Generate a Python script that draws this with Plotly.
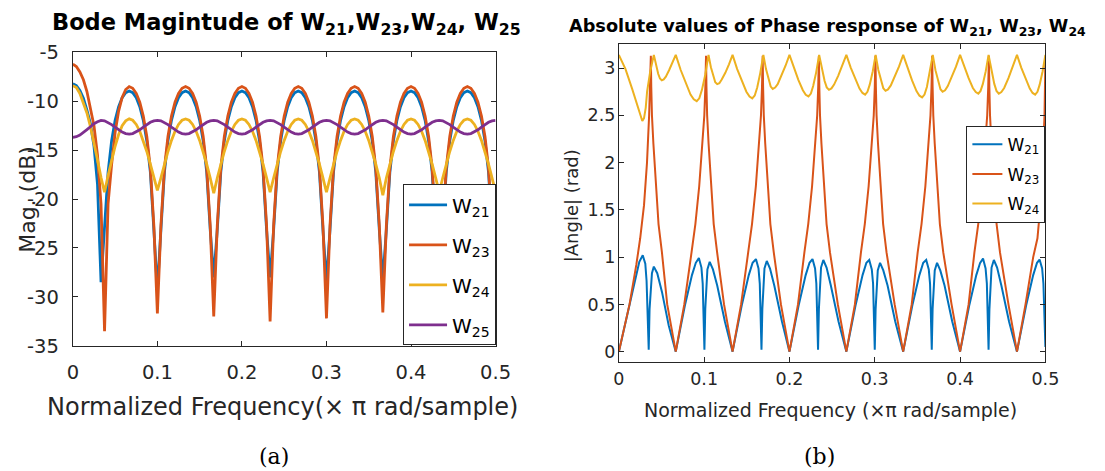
import numpy as np
import plotly.graph_objects as go

W, H = 1105, 471

# ---------------- magnitude responses (dB) on a uniform frequency grid ----------------
FREQ = np.linspace(0.0, 0.5, 121)

W21_MAG = [
    -8.2, -8.4, -8.9, -9.7, -10.9, -12.3, -14.6, -18.5, -28.5,
    -23.15, -17.25, -14.05, -11.95, -10.55, -9.64, -9.12, -8.95,
    -9.12, -9.64, -10.55, -11.95, -14.05, -17.25, -23.15, -29.3, -23.15, -17.25, -14.05, -11.95, -10.55, -9.64, -9.12, -8.95,
    -9.12, -9.64, -10.55, -11.95, -14.05, -17.25, -23.15, -28.0, -23.15, -17.25, -14.05, -11.95, -10.55, -9.64, -9.12, -8.95,
    -9.12, -9.64, -10.55, -11.95, -14.05, -17.25, -23.15, -28.0, -23.15, -17.25, -14.05, -11.95, -10.55, -9.64, -9.12, -8.95,
    -9.12, -9.64, -10.55, -11.95, -14.05, -17.25, -23.15, -28.5, -23.15, -17.25, -14.05, -11.95, -10.55, -9.64, -9.12, -8.95,
    -9.12, -9.64, -10.55, -11.95, -14.05, -17.25, -23.15, -28.3, -23.15, -17.25, -14.05, -11.95, -10.55, -9.64, -9.12, -8.95,
    -9.12, -9.64, -10.55, -11.95, -14.05, -17.25, -23.15, -28.6, -23.15, -17.25, -14.05, -11.95, -10.55, -9.64, -9.12, -8.95,
    -9.12, -9.64, -10.55, -11.95, -14.05, -17.25, -23.15, -29.2,
]

W23_MAG = [
    -6.2, -6.45, -7.0, -7.8, -9.0, -10.6, -12.5, -15.5, -20.5, -33.5,
    -20.5, -16.5, -13.2, -11.0, -9.6, -8.8, -8.5,
    -8.67, -9.19, -10.1, -11.5, -13.6, -16.8, -22.7, -31.7, -22.7, -16.8, -13.6, -11.5, -10.1, -9.19, -8.67, -8.5,
    -8.67, -9.19, -10.1, -11.5, -13.6, -16.8, -22.7, -32.0, -22.7, -16.8, -13.6, -11.5, -10.1, -9.19, -8.67, -8.5,
    -8.67, -9.19, -10.1, -11.5, -13.6, -16.8, -22.7, -32.5, -22.7, -16.8, -13.6, -11.5, -10.1, -9.19, -8.67, -8.5,
    -8.67, -9.19, -10.1, -11.5, -13.6, -16.8, -22.7, -32.2, -22.7, -16.8, -13.6, -11.5, -10.1, -9.19, -8.67, -8.5,
    -8.67, -9.19, -10.1, -11.5, -13.6, -16.8, -22.7, -31.6, -22.7, -16.8, -13.6, -11.5, -10.1, -9.19, -8.67, -8.5,
    -8.67, -9.19, -10.1, -11.5, -13.6, -16.8, -22.7, -32.3, -22.7, -16.8, -13.6, -11.5, -10.1, -9.19, -8.67, -8.5,
    -8.67, -9.19, -10.1, -11.5, -13.6, -16.8, -22.7, -32.5,
]

W24_MAG = [
    -8.4, -8.6, -9.2, -10.1, -11.2, -12.6, -14.2, -16.0, -17.8, -19.3,
    -17.6, -16.0, -14.6, -13.4, -12.5, -12.0, -11.8,
    -11.94, -12.37, -13.06, -14.0, -15.13, -16.43, -17.84, -19.1, -17.84, -16.43, -15.13, -14.0, -13.06, -12.37, -11.94, -11.8,
    -11.94, -12.37, -13.06, -14.0, -15.13, -16.43, -17.84, -19.4, -17.84, -16.43, -15.13, -14.0, -13.06, -12.37, -11.94, -11.8,
    -11.94, -12.37, -13.06, -14.0, -15.13, -16.43, -17.84, -19.3, -17.84, -16.43, -15.13, -14.0, -13.06, -12.37, -11.94, -11.8,
    -11.94, -12.37, -13.06, -14.0, -15.13, -16.43, -17.84, -19.3, -17.84, -16.43, -15.13, -14.0, -13.06, -12.37, -11.94, -11.8,
    -11.94, -12.37, -13.06, -14.0, -15.13, -16.43, -17.84, -19.6, -17.84, -16.43, -15.13, -14.0, -13.06, -12.37, -11.94, -11.8,
    -11.94, -12.37, -13.06, -14.0, -15.13, -16.43, -17.84, -19.3, -17.84, -16.43, -15.13, -14.0, -13.06, -12.37, -11.94, -11.8,
    -11.94, -12.37, -13.06, -14.0, -15.13, -16.43, -17.84, -19.3,
]

W25_MAG = [
    -13.7, -13.62, -13.45, -13.2, -12.9, -12.6, -12.3, -12.1, -11.95,
    -12.0, -12.15, -12.38, -12.65, -12.92, -13.15, -13.3, -13.35,
    -13.3, -13.15, -12.92, -12.65, -12.38, -12.15, -12.0, -11.95, -12.0, -12.15, -12.38, -12.65, -12.92, -13.15, -13.3, -13.35,
    -13.3, -13.15, -12.92, -12.65, -12.38, -12.15, -12.0, -11.95, -12.0, -12.15, -12.38, -12.65, -12.92, -13.15, -13.3, -13.35,
    -13.3, -13.15, -12.92, -12.65, -12.38, -12.15, -12.0, -11.95, -12.0, -12.15, -12.38, -12.65, -12.92, -13.15, -13.3, -13.35,
    -13.3, -13.15, -12.92, -12.65, -12.38, -12.15, -12.0, -11.95, -12.0, -12.15, -12.38, -12.65, -12.92, -13.15, -13.3, -13.35,
    -13.3, -13.15, -12.92, -12.65, -12.38, -12.15, -12.0, -11.95, -12.0, -12.15, -12.38, -12.65, -12.92, -13.15, -13.3, -13.35,
    -13.3, -13.15, -12.92, -12.65, -12.38, -12.15, -12.0, -11.95, -12.0, -12.15, -12.38, -12.65, -12.92, -13.15, -13.3, -13.35,
    -13.3, -13.15, -12.92, -12.65, -12.38, -12.15, -12.0, -11.95,
]

# ---------------- absolute phase responses (rad) ----------------
W21_PH_F = [
    0, 0.0125, 0.019, 0.024, 0.028, 0.031, 0.0325, 0.0338, 0.035, 0.036, 0.0372, 0.0388, 0.041, 0.045, 0.0506, 0.0584,
    0.0667, 0.0777, 0.0857, 0.0902, 0.0938, 0.0968, 0.0983, 0.0993, 0.1003, 0.1013, 0.1023, 0.1038, 0.1065, 0.1103, 0.1153, 0.1243,
    0.1333, 0.1443, 0.1523, 0.1568, 0.1607, 0.1637, 0.1652, 0.1662, 0.1672, 0.1682, 0.1692, 0.1707, 0.1734, 0.1772, 0.1822, 0.1912,
    0.2, 0.211, 0.219, 0.2235, 0.227, 0.23, 0.2315, 0.2325, 0.2335, 0.2345, 0.2355, 0.237, 0.2397, 0.2435, 0.2485, 0.2575,
    0.2667, 0.2777, 0.2857, 0.2902, 0.2935, 0.2965, 0.298, 0.299, 0.3, 0.301, 0.302, 0.3035, 0.3062, 0.31, 0.315, 0.324,
    0.3333, 0.3443, 0.3523, 0.3568, 0.3603, 0.3633, 0.3648, 0.3658, 0.3668, 0.3678, 0.3688, 0.3703, 0.373, 0.3768, 0.3818, 0.3908,
    0.4, 0.411, 0.419, 0.4235, 0.4269, 0.4299, 0.4314, 0.4324, 0.4334, 0.4344, 0.4354, 0.4369, 0.4396, 0.4434, 0.4484, 0.4574,
    0.4667, 0.4777, 0.4857, 0.4902, 0.4932, 0.4962, 0.4977, 0.4988, 0.5,
]
W21_PH = [
    0, 0.5, 0.78, 0.95, 1.02, 0.93, 0.75, 0.45, 0.02, 0.45, 0.68, 0.83, 0.9, 0.83, 0.63, 0.28,
    0, 0.5, 0.81, 0.94, 0.99, 0.89, 0.72, 0.45, 0.02, 0.45, 0.7, 0.87, 0.95, 0.87, 0.7, 0.32,
    0, 0.5, 0.81, 0.94, 0.98, 0.88, 0.72, 0.45, 0.02, 0.45, 0.7, 0.88, 0.96, 0.88, 0.7, 0.32,
    0, 0.5, 0.81, 0.94, 0.98, 0.88, 0.72, 0.45, 0.02, 0.45, 0.7, 0.89, 0.97, 0.89, 0.7, 0.32,
    0, 0.5, 0.81, 0.94, 0.97, 0.87, 0.72, 0.45, 0.02, 0.45, 0.7, 0.86, 0.94, 0.86, 0.7, 0.32,
    0, 0.5, 0.81, 0.94, 0.97, 0.87, 0.72, 0.45, 0.02, 0.45, 0.7, 0.86, 0.94, 0.86, 0.7, 0.32,
    0, 0.5, 0.81, 0.94, 0.985, 0.88, 0.72, 0.45, 0.02, 0.45, 0.7, 0.89, 0.97, 0.89, 0.7, 0.32,
    0, 0.5, 0.81, 0.94, 0.975, 0.88, 0.72, 0.45, 0.05,
]

W23_PH_F = [
    0, 0.0125, 0.0205, 0.025, 0.0295, 0.033, 0.0355, 0.0367, 0.0375, 0.038, 0.0388, 0.0405, 0.043, 0.0465, 0.0505, 0.0567,
    0.0667, 0.0767, 0.0852, 0.0897, 0.0942, 0.0977, 0.1002, 0.1014, 0.1022, 0.1027, 0.1035, 0.1052, 0.1077, 0.1112, 0.1152, 0.1233,
    0.1333, 0.1433, 0.1516, 0.1561, 0.1606, 0.1641, 0.1666, 0.1678, 0.1686, 0.1691, 0.1699, 0.1716, 0.1741, 0.1776, 0.1816, 0.19,
    0.2, 0.21, 0.2175, 0.222, 0.2265, 0.23, 0.2325, 0.2337, 0.2345, 0.235, 0.2358, 0.2375, 0.24, 0.2435, 0.2475, 0.2567,
    0.2667, 0.2767, 0.2838, 0.2883, 0.2928, 0.2963, 0.2988, 0.3, 0.3008, 0.3013, 0.3021, 0.3038, 0.3063, 0.3098, 0.3138, 0.3233,
    0.3333, 0.3433, 0.3503, 0.3548, 0.3593, 0.3628, 0.3653, 0.3665, 0.3673, 0.3678, 0.3686, 0.3703, 0.3728, 0.3763, 0.3803, 0.39,
    0.4, 0.41, 0.4168, 0.4213, 0.4258, 0.4293, 0.4318, 0.433, 0.4338, 0.4343, 0.4351, 0.4368, 0.4393, 0.4428, 0.4468, 0.4567,
    0.4667, 0.4767, 0.4857, 0.4907, 0.4947, 0.4975, 0.499, 0.5,
]
W23_PH = [
    0, 0.5, 0.92, 1.2, 1.55, 2.0, 2.5, 2.8, 3.13, 2.8, 2.5, 2.2, 1.8, 1.35, 1.05, 0.5,
    0, 0.5, 1.05, 1.35, 1.75, 2.2, 2.5, 2.8, 3.13, 2.8, 2.5, 2.2, 1.8, 1.35, 1.05, 0.5,
    0, 0.5, 1.05, 1.35, 1.75, 2.2, 2.5, 2.8, 3.13, 2.8, 2.5, 2.2, 1.8, 1.35, 1.05, 0.5,
    0, 0.5, 1.05, 1.35, 1.75, 2.2, 2.5, 2.8, 3.13, 2.8, 2.5, 2.2, 1.8, 1.35, 1.05, 0.5,
    0, 0.5, 1.05, 1.35, 1.75, 2.2, 2.5, 2.8, 3.13, 2.8, 2.5, 2.2, 1.8, 1.35, 1.05, 0.5,
    0, 0.5, 1.05, 1.35, 1.75, 2.2, 2.5, 2.8, 3.13, 2.8, 2.5, 2.2, 1.8, 1.35, 1.05, 0.5,
    0, 0.5, 1.05, 1.35, 1.75, 2.2, 2.5, 2.8, 3.13, 2.8, 2.5, 2.2, 1.8, 1.35, 1.05, 0.5,
    0, 0.5, 1.0, 1.2, 1.6, 2.1, 2.5, 3.1,
]

W24_PH_F = [
    0, 0.0078, 0.0156, 0.0234, 0.0275, 0.0295, 0.0315, 0.0331, 0.0365, 0.041,
    0.0436, 0.0461, 0.0482, 0.0503, 0.0526, 0.0551, 0.059, 0.0628,
    0.0667, 0.0725, 0.0782, 0.084, 0.0878, 0.0913, 0.0943, 0.0974, 0.1013, 0.1051,
    0.1079, 0.1107, 0.113, 0.1153, 0.1178, 0.1206, 0.1248, 0.1291,
    0.1333, 0.1387, 0.1441, 0.1495, 0.1532, 0.1564, 0.1593, 0.1622, 0.1658, 0.1694,
    0.1725, 0.1755, 0.178, 0.1804, 0.1832, 0.1862, 0.1908, 0.1954,
    0.2, 0.2052, 0.2104, 0.2157, 0.2191, 0.2223, 0.2251, 0.2278, 0.2313, 0.2348,
    0.238, 0.2412, 0.2437, 0.2463, 0.2492, 0.2523, 0.2571, 0.2619,
    0.2667, 0.2718, 0.277, 0.2821, 0.2856, 0.2887, 0.2914, 0.2941, 0.2976, 0.301,
    0.3042, 0.3075, 0.31, 0.3126, 0.3155, 0.3188, 0.3236, 0.3285,
    0.3333, 0.3385, 0.3437, 0.3489, 0.3524, 0.3555, 0.3583, 0.3611, 0.3645, 0.368,
    0.3712, 0.3744, 0.377, 0.3795, 0.3824, 0.3856, 0.3904, 0.3952,
    0.4, 0.405, 0.41, 0.415, 0.4184, 0.4214, 0.424, 0.4267, 0.4301, 0.4334,
    0.4367, 0.4401, 0.4427, 0.4454, 0.4484, 0.4517, 0.4567, 0.4617,
    0.4667, 0.4717, 0.4767, 0.4817, 0.485, 0.488, 0.4907, 0.4933, 0.4967, 0.5,
]
W24_PH = [
    3.14, 2.99, 2.78, 2.55, 2.44, 2.47, 2.58, 2.75, 2.95, 3.14,
    3.03, 2.94, 2.89, 2.87, 2.88, 2.91, 2.98, 3.05,
    3.14, 2.98, 2.85, 2.72, 2.67, 2.65, 2.68, 2.77, 2.93, 3.14,
    3.01, 2.91, 2.85, 2.83, 2.84, 2.88, 2.95, 3.04,
    3.14, 2.99, 2.86, 2.75, 2.7, 2.68, 2.71, 2.795, 2.95, 3.14,
    2.99, 2.87, 2.805, 2.78, 2.795, 2.83, 2.92, 3.025,
    3.14, 3.0, 2.876, 2.766, 2.718, 2.7, 2.73, 2.81, 2.955, 3.14,
    2.985, 2.863, 2.796, 2.77, 2.785, 2.826, 2.918, 3.02,
    3.14, 3.006, 2.888, 2.783, 2.737, 2.72, 2.749, 2.825, 2.964, 3.14,
    2.98, 2.855, 2.787, 2.76, 2.775, 2.817, 2.912, 3.018,
    3.14, 2.996, 2.87, 2.757, 2.708, 2.69, 2.72, 2.8, 2.95, 3.14,
    2.976, 2.848, 2.777, 2.75, 2.766, 2.81, 2.906, 3.015,
    3.14, 3.009, 2.894, 2.79, 2.746, 2.73, 2.759, 2.833, 2.968, 3.14,
    2.968, 2.833, 2.759, 2.73, 2.746, 2.79, 2.894, 3.009,
    3.14, 3.006, 2.888, 2.783, 2.737, 2.72, 2.749, 2.825, 2.964, 3.14,
]

# ---------------- ticks ----------------
FREQ_TICKS = [0, 0.1, 0.2, 0.3, 0.4, 0.5]
FREQ_TICK_TEXT = ["0", "0.1", "0.2", "0.3", "0.4", "0.5"]
MAG_TICKS = [-35, -30, -25, -20, -15, -10, -5]
MAG_TICK_TEXT = ["-35", "-30", "-25", "-20", "-15", "-10", "-5"]
PH_TICKS = [0, 0.5, 1, 1.5, 2, 2.5, 3]
PH_TICK_TEXT = ["0", "0.5", "1", "1.5", "2", "2.5", "3"]

assert len(W21_MAG) == len(W23_MAG) == len(W24_MAG) == len(W25_MAG) == len(FREQ)
assert len(W21_PH_F) == len(W21_PH)
assert len(W23_PH_F) == len(W23_PH)
assert len(W24_PH_F) == len(W24_PH)

BLUE, ORANGE, YELLOW, PURPLE = "#0072BD", "#D95319", "#EDB120", "#7E2F8E"
FONT = "DejaVu Sans"
SERIF = "DejaVu Serif"
INK = "#262626"


# pixel positions on the page -> paper fractions
def fx(p):
    return p / W


def fy(p):
    return 1 - p / H


fig = go.Figure()

mag_series = [("21", W21_MAG, BLUE), ("23", W23_MAG, ORANGE),
              ("24", W24_MAG, YELLOW), ("25", W25_MAG, PURPLE)]
for name, vals, col in mag_series:
    fig.add_trace(go.Scatter(
        x=FREQ, y=vals, mode="lines", name=f"W<sub>{name}</sub>",
        line=dict(color=col, width=2.8), xaxis="x", yaxis="y",
        legend="legend", legendgroup="m" + name, showlegend=True))

ph_series = [("21", W21_PH_F, W21_PH, BLUE), ("23", W23_PH_F, W23_PH, ORANGE),
             ("24", W24_PH_F, W24_PH, YELLOW)]
for name, fr, vals, col in ph_series:
    fig.add_trace(go.Scatter(
        x=fr, y=vals, mode="lines", name=f"W<sub>{name}</sub>",
        line=dict(color=col, width=2.0), xaxis="x2", yaxis="y2",
        legend="legend2", legendgroup="p" + name, showlegend=True))


def axis(size, standoff, **kw):
    d = dict(showline=True, linecolor=INK, linewidth=1, mirror="ticks",
             ticks="inside", ticklen=5, tickcolor=INK, showgrid=False,
             zeroline=False, ticklabelstandoff=standoff,
             tickfont=dict(family=FONT, color=INK, size=size))
    d.update(kw)
    return d


fig.update_layout(
    width=W, height=H, autosize=False,
    margin=dict(l=0, r=0, t=0, b=0, pad=0),
    paper_bgcolor="white", plot_bgcolor="white",
    xaxis=axis(19.5, 9, domain=[fx(68.2), fx(499.5)], range=[0, 0.5], anchor="y",
               tickvals=FREQ_TICKS, ticktext=FREQ_TICK_TEXT),
    yaxis=axis(19.5, 9, domain=[fy(352.0), fy(43.5)], range=[-35, -5], anchor="x",
               tickvals=MAG_TICKS, ticktext=MAG_TICK_TEXT),
    xaxis2=axis(17.5, 1, domain=[fx(625.3), fx(1060.5)], range=[0, 0.5], anchor="y2",
                tickvals=FREQ_TICKS, ticktext=FREQ_TICK_TEXT),
    yaxis2=axis(17.5, -1, domain=[fy(368.5), fy(35.2)], range=[-0.104, 3.25], anchor="x2",
                tickvals=PH_TICKS, ticktext=PH_TICK_TEXT),
    legend=dict(x=fx(500), y=fy(351.6), xanchor="right", yanchor="bottom",
                bgcolor="white", bordercolor=INK, borderwidth=1,
                font=dict(family=FONT, size=20, color="black"),
                tracegroupgap=11, itemwidth=38),
    legend2=dict(x=fx(1060.5), y=fy(222.6), xanchor="right", yanchor="bottom",
                 bgcolor="white", bordercolor=INK, borderwidth=1,
                 font=dict(family=FONT, size=17, color="black"),
                 tracegroupgap=4.5, itemwidth=30),
)

annotations = [
    dict(text="<b>Bode Magintude of W<sub>21</sub>,W<sub>23</sub>,W<sub>24</sub>, W<sub>25</sub></b>",
         x=fx(285.9), y=fy(13.5), font=dict(family=FONT, size=22.5, color="black")),
    dict(text="<b>Absolute values of Phase response of W<sub>21</sub>, W<sub>23</sub>, W<sub>24</sub></b>",
         x=fx(838.5), y=fy(17.6), font=dict(family=FONT, size=17.7, color="black")),
    dict(text="Normalized Frequency(× π rad/sample)", x=fx(281.8), y=fy(416.1),
         font=dict(family=FONT, size=24, color=INK)),
    dict(text="Normalized Frequency (×π rad/sample)", x=fx(841.5), y=fy(419.3),
         font=dict(family=FONT, size=19, color=INK)),
    dict(text="Mag. (dB)", x=fx(21.2), y=fy(197.7), textangle=-90,
         font=dict(family=FONT, size=22, color=INK)),
    dict(text="|Angle| (rad)", x=fx(577.8), y=fy(205.0), textangle=-90,
         font=dict(family=FONT, size=18, color=INK)),
    dict(text="(a)", x=fx(273.7), y=fy(467.9), font=dict(family=SERIF, size=22, color="black")),
    dict(text="(b)", x=fx(830.3), y=fy(467.9), font=dict(family=SERIF, size=22, color="black")),
]
for a in annotations:
    a.update(xref="paper", yref="paper", showarrow=False, xanchor="center", yanchor="middle")
fig.update_layout(annotations=annotations)

fig.write_html("out.html")
